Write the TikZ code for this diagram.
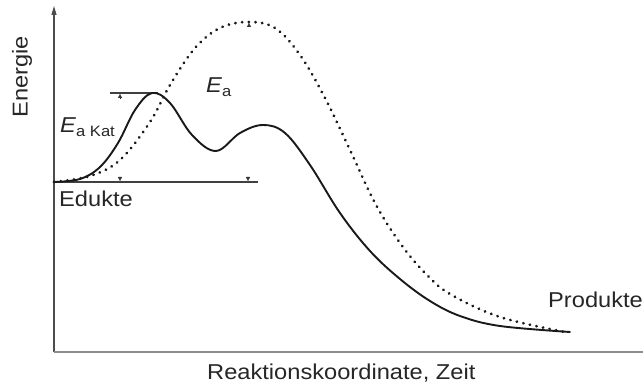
\documentclass[tikz,border=0pt]{standalone}
\usepackage{fontspec}
\setmainfont{Liberation Sans}
\usetikzlibrary{arrows.meta}
\newcommand\widetxt[1]{\scalebox{1.1}[1]{#1}}
\begin{document}
\begin{tikzpicture}[x=1pt,y=1pt,
  lbl/.style={inner sep=0pt,font=\fontsize{21.5}{25}\selectfont,text=black!85},
  solidcurve/.style={line width=1.9pt,black!90,line cap=round},
  dotcurve/.style={line width=3pt,black!90,line cap=round,dash pattern=on 0.1pt off 6.6pt},
  tick/.style={-{Triangle[length=4pt,width=4pt]},line width=0.3pt,black!80}]
\useasboundingbox (0,0) rectangle (644,385);
% axes
\draw[line width=1.1pt,black!70,-{Triangle[length=9pt,width=5pt]}] (54,33) -- (54,379);
\draw[line width=1.3pt,black!45] (54,33) -- (643,33);
% reference lines
\draw[line width=1.3pt,black!75] (54,203) -- (258,203);
\draw[line width=1.3pt,black!75] (110,292) -- (158,292);
% dotted uncatalysed curve
\draw[dotcurve] plot[smooth,tension=0.6] coordinates {
  (54,203) (90,209) (120,225) (150,263) (170,300) (195,337) (220,357) (248,363)
  (275,357) (300,330) (325,287) (350,235) (375,182) (400,142) (425,112) (450,91) (500,68) (565,53)};
% solid catalysed curve
\draw[solidcurve] plot[smooth,tension=0.6] coordinates {
  (54,203) (80,206) (100,218) (118,242) (135,275) (152,292) (170,282) (192,250)
  (216,234) (240,252) (263,260) (285,252) (310,220) (340,172) (370,134) (400,106)
  (430,84) (460,69) (500,59) (570,53)};
% dimension arrow tips
\draw[tick] (120,287) -- (120,291);
\draw[tick] (120,208) -- (120,204);
\draw[tick] (249,359) -- (249,362);
\draw[tick] (248,208) -- (248,204);
% labels
\node[lbl,rotate=90] (en) at (22,308) {\widetxt{Energie}};
\node[lbl,anchor=base west] (eakat) at (60,252) {\widetxt{\textit{E}\textsubscript{a Kat}}};
\node[lbl,anchor=base west] (ea) at (206,292) {\widetxt{\textit{E}\textsubscript{a}}};
\node[lbl,anchor=base west] (ed) at (59,178) {\widetxt{Edukte}};
\node[lbl,anchor=base west] (pr) at (548,77) {\widetxt{Produkte}};
\node[lbl,anchor=base west] (rk) at (207,6) {\widetxt{Reaktionskoordinate, Zeit}};
\end{tikzpicture}
\end{document}
